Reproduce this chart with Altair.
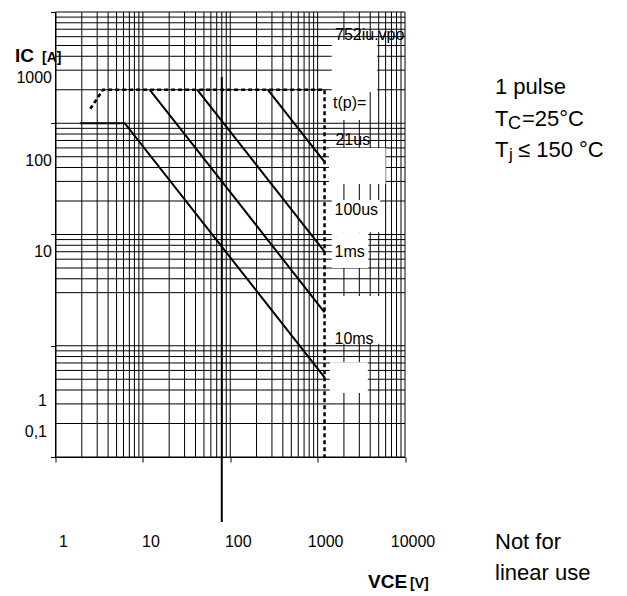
import altair as alt
import pandas as pd

FONT = "Liberation Sans"

# ---------------- axes / grid values ----------------
x_decades = [1, 10, 100, 1000, 10000]
x_tick_labels = ["1", "10", "100", "1000", "10000"]
x_grid = [m * 10 ** k for k in range(4) for m in range(1, 10)] + [10000]

y_decades = [0.1, 1, 10, 100, 1000]
y_grid = [0.1, 0.2, 0.3, 0.4, 0.5, 0.6, 0.7, 0.8, 0.9,
          1, 3, 4, 5, 6, 7, 8, 9,
          10, 20, 30, 40, 50, 60, 70, 80, 90,
          100, 200, 300, 400, 500, 600, 700, 800, 900, 1000]
y_label_text = ["1000", "100", "10", "1", "0,1"]
y_label_at = [255, 46, 7.0, 0.32, 0.168]

# ---------------- curves (VCE [V], IC [A]) ----------------
v_10ms = [1.9, 6.2, 1200]
i_10ms = [100, 100, 0.52]
v_1ms = [12, 1200]
i_1ms = [200, 2.0]
v_100us = [42, 1200]
i_100us = [200, 7.0]
v_21us = [270, 1200]
i_21us = [200, 45]
v_limit = [2.5, 3.5, 1200, 1200]
i_limit = [135, 200, 200, 0.1]
v_marker = [80, 80]
i_marker = [260, 0.026]

# ---------------- in-plot labels ----------------
lab_text = ["752iu.vpo", "t(p)=", "21us", "100us", "1ms", "10ms"]
lab_v = [1580, 1500, 1600, 1560, 1560, 1560]
lab_i = [620, 152, 71, 16.6, 6.96, 1.15]

# white boxes behind the labels (V range, I range)
box_v1 = [1450, 1450, 1350, 1450, 1450, 1380, 1380]
box_v2 = [4800, 3800, 6000, 5200, 3800, 5700, 3750]
box_i1 = [191, 107, 28.4, 10.5, 5.0, 1.04, 0.376]
box_i2 = [560, 191, 60, 20.4, 10.5, 2.8, 0.71]

W, H = 349.5, 445

xs = alt.Scale(type="log", domain=[1, 10000])
ys = alt.Scale(type="log", domain=[0.1, 1000])

x_axis = alt.Axis(values=x_decades, labels=False, grid=False, title=None,
                  domainColor="black", domainWidth=1, tickColor="black", tickSize=5,
                  tickWidth=1)
y_axis = alt.Axis(values=y_decades, labels=False, grid=False, title=None,
                  domainColor="black", domainWidth=1, tickColor="black", tickSize=5,
                  tickWidth=1)


def X(f):
    return alt.X(f, type="quantitative", scale=xs, axis=x_axis)


def Y(f):
    return alt.Y(f, type="quantitative", scale=ys, axis=y_axis)


vgrid = alt.Chart(pd.DataFrame({"V": x_grid})).mark_rule(
    color="black", strokeWidth=1).encode(x=X("V"))
hgrid = alt.Chart(pd.DataFrame({"I": y_grid})).mark_rule(
    color="black", strokeWidth=1).encode(y=Y("I"))

boxes = alt.Chart(pd.DataFrame({"V": box_v1, "V2": box_v2, "I": box_i1, "I2": box_i2})).mark_rect(
    color="white", opacity=1).encode(x=X("V"), x2="V2", y=Y("I"), y2="I2")

rows = []
for name, vs, cs in [("10ms", v_10ms, i_10ms), ("1ms", v_1ms, i_1ms),
                     ("100us", v_100us, i_100us), ("21us", v_21us, i_21us)]:
    for k, (v, c) in enumerate(zip(vs, cs)):
        rows.append({"series": name, "k": k, "V": v, "I": c})
curves = alt.Chart(pd.DataFrame(rows)).mark_line(
    color="black", strokeWidth=2).encode(x=X("V"), y=Y("I"), detail="series:N", order="k:Q")

limit = alt.Chart(pd.DataFrame({"V": v_limit, "I": i_limit, "k": list(range(len(v_limit)))})).mark_line(
    color="black", strokeWidth=2.5, strokeDash=[4, 3]).encode(x=X("V"), y=Y("I"), order="k:Q")

marker = alt.Chart(pd.DataFrame({"V": v_marker, "I": i_marker, "k": [0, 1]})).mark_line(
    color="black", strokeWidth=2, clip=False).encode(x=X("V"), y=Y("I"), order="k:Q")

labels = alt.Chart(pd.DataFrame({"t": lab_text, "V": lab_v, "I": lab_i})).mark_text(
    font=FONT, fontSize=16, align="left", baseline="middle", color="black").encode(
    x=X("V"), y=Y("I"), text="t:N")

xlab = alt.Chart(pd.DataFrame({"t": x_tick_labels, "V": x_decades})).mark_text(
    font=FONT, fontSize=16, align="center", baseline="middle", color="black", dx=8).encode(
    x=X("V"), y=alt.value(542 - 12), text="t:N")

ylab_a = alt.Chart(pd.DataFrame({"t": y_label_text[:3], "I": y_label_at[:3]})).mark_text(
    font=FONT, fontSize=16, align="right", baseline="middle", color="black").encode(
    x=alt.value(-3.5), y=Y("I"), text="t:N")
ylab_b = alt.Chart(pd.DataFrame({"t": y_label_text[3:], "I": y_label_at[3:]})).mark_text(
    font=FONT, fontSize=16, align="right", baseline="middle", color="black").encode(
    x=alt.value(-8.5), y=Y("I"), text="t:N")


def note(text, px, py, size=22, bold=False):
    # px, py are page positions; plot origin is at (55.5, 12)
    return alt.Chart(pd.DataFrame({"t": [text]})).mark_text(
        font=FONT, fontSize=size, fontWeight="bold" if bold else "normal",
        align="left", baseline="alphabetic", color="black").encode(
        x=alt.value(px - 55.5), y=alt.value(py - 12), text="t:N")


notes = [
    note("IC", 15, 62, 19, True), note("[A]", 42, 62, 14, True),
    note("VCE", 368, 588, 19, True), note("[V]", 410, 588, 14, True),
    note("1 pulse", 495, 94),
    note("T", 495, 126), note("C", 508, 129, 18), note("=25°C", 522, 126),
    note("T", 495, 157), note("j", 509, 160, 17), note("≤ 150 °C", 518, 157),
    note("Not for", 495, 549), note("linear use", 495, 580),
]

chart = alt.layer(vgrid, hgrid, boxes, curves, limit, marker, labels, xlab, ylab_a, ylab_b,
                  *notes).properties(
    width=W, height=H,
    autosize=alt.AutoSizeParams(type="none"),
    padding={"left": 47.5, "top": 4, "right": 210, "bottom": 136},
    background="white",
).configure_view(stroke=None)

chart.save("out.html", embed_options={"renderer": "svg", "actions": False})
